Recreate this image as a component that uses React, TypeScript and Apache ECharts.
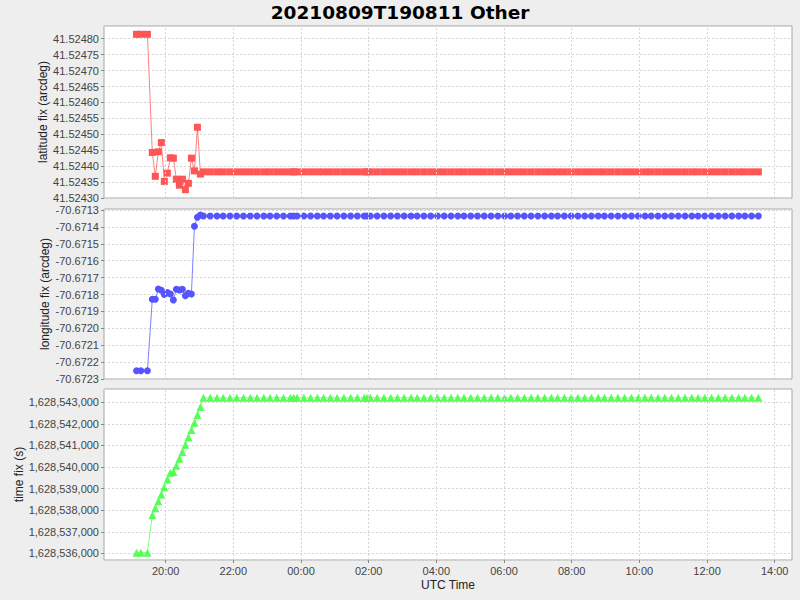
import React, { useEffect, useRef } from "react";
import * as echarts from "echarts";

const TITLE = "20210809T190811 Other";
const X_NAME = "UTC Time";
const Y_NAMES = ["latitude fix (arcdeg)", "longitude fix (arcdeg)", "time fix (s)"];

// sample times (UTC); hours >= 18 are on 2021-08-09, the rest on 2021-08-10
const SAMPLE_TIMES = [
  "19:08:20", "19:16:00", "19:27:40", "19:36:20", "19:41:40", "19:47:00", "19:52:20", "19:57:40",
  "20:03:00", "20:08:20", "20:13:40", "20:19:00", "20:24:20", "20:29:40", "20:35:00", "20:40:20",
  "20:45:40", "20:51:00", "20:56:20", "21:01:40", "21:07:00",
  "21:19:00", "21:31:00", "21:42:00", "21:54:00", "22:06:00", "22:18:00", "22:30:00", "22:42:00",
  "22:54:00", "23:05:00", "23:17:00", "23:29:00", "23:41:00", "23:47:00", "23:53:00",
  "00:05:00", "00:17:00", "00:29:00", "00:40:00", "00:52:00", "01:04:00", "01:16:00", "01:28:00",
  "01:40:00", "01:52:00", "01:57:00", "02:03:00", "02:15:00", "02:27:00", "02:39:00", "02:51:00",
  "03:03:00", "03:15:00", "03:26:00", "03:38:00", "03:50:00", "04:02:00", "04:14:00", "04:26:00",
  "04:38:00", "04:49:00", "05:01:00", "05:13:00", "05:25:00", "05:37:00", "05:49:00",
  "06:01:00", "06:12:00", "06:24:00", "06:36:00", "06:48:00", "07:00:00", "07:12:00", "07:24:00",
  "07:35:00", "07:47:00", "07:59:00", "08:11:00", "08:23:00", "08:35:00", "08:47:00",
  "08:58:00", "09:10:00", "09:22:00", "09:34:00", "09:46:00", "09:58:00", "10:10:00", "10:21:00",
  "10:33:00", "10:45:00", "10:57:00", "11:09:00", "11:21:00", "11:33:00", "11:44:00",
  "11:56:00", "12:08:00", "12:20:00", "12:32:00", "12:44:00", "12:56:00", "13:07:00", "13:19:00",
  "13:31:00",
];

const LATITUDE = [
  41.524814, 41.524814, 41.524814, 41.524443, 41.524368, 41.524445, 41.524474, 41.524352,
  41.524378, 41.524426, 41.524425, 41.524359, 41.52434, 41.524359, 41.524326, 41.524346,
  41.524425, 41.524385, 41.524522, 41.524375, 41.524382,
  41.524382, 41.524382, 41.524382, 41.524382, 41.524382, 41.524382, 41.524382, 41.524382,
  41.524382, 41.524382, 41.524382, 41.524382, 41.524382, 41.524382, 41.524382,
  41.524382, 41.524382, 41.524382, 41.524382, 41.524382, 41.524382, 41.524382, 41.524382,
  41.524382, 41.524382, 41.524382, 41.524382, 41.524382, 41.524382, 41.524382, 41.524382,
  41.524382, 41.524382, 41.524382, 41.524382, 41.524382, 41.524382, 41.524382, 41.524382,
  41.524382, 41.524382, 41.524382, 41.524382, 41.524382, 41.524382, 41.524382,
  41.524382, 41.524382, 41.524382, 41.524382, 41.524382, 41.524382, 41.524382, 41.524382,
  41.524382, 41.524382, 41.524382, 41.524382, 41.524382, 41.524382, 41.524382,
  41.524382, 41.524382, 41.524382, 41.524382, 41.524382, 41.524382, 41.524382, 41.524382,
  41.524382, 41.524382, 41.524382, 41.524382, 41.524382, 41.524382, 41.524382,
  41.524382, 41.524382, 41.524382, 41.524382, 41.524382, 41.524382, 41.524382, 41.524382,
  41.524382,
];

const LONGITUDE = [
  -70.672251, -70.672251, -70.672251, -70.671828, -70.671828, -70.671767, -70.671775, -70.6718,
  -70.671789, -70.671797, -70.671833, -70.671769, -70.671773, -70.671769, -70.671807, -70.671793,
  -70.671797, -70.671396, -70.671343, -70.67133, -70.671335,
  -70.671335, -70.671335, -70.671335, -70.671335, -70.671335, -70.671335, -70.671335, -70.671335,
  -70.671335, -70.671335, -70.671335, -70.671335, -70.671335, -70.671335, -70.671335,
  -70.671335, -70.671335, -70.671335, -70.671335, -70.671335, -70.671335, -70.671335, -70.671335,
  -70.671335, -70.671335, -70.671335, -70.671335, -70.671335, -70.671335, -70.671335, -70.671335,
  -70.671335, -70.671335, -70.671335, -70.671335, -70.671335, -70.671335, -70.671335, -70.671335,
  -70.671335, -70.671335, -70.671335, -70.671335, -70.671335, -70.671335, -70.671335,
  -70.671335, -70.671335, -70.671335, -70.671335, -70.671335, -70.671335, -70.671335, -70.671335,
  -70.671335, -70.671335, -70.671335, -70.671335, -70.671335, -70.671335, -70.671335,
  -70.671335, -70.671335, -70.671335, -70.671335, -70.671335, -70.671335, -70.671335, -70.671335,
  -70.671335, -70.671335, -70.671335, -70.671335, -70.671335, -70.671335, -70.671335,
  -70.671335, -70.671335, -70.671335, -70.671335, -70.671335, -70.671335, -70.671335, -70.671335,
  -70.671335,
];

const TIME_FIX = [
  1628536030, 1628536030, 1628536030, 1628537770, 1628538090, 1628538410, 1628538730, 1628539060,
  1628539420, 1628539740, 1628539770, 1628540060, 1628540380, 1628540700, 1628541040, 1628541380,
  1628541720, 1628542060, 1628542420, 1628542780, 1628543210,
  1628543210, 1628543210, 1628543210, 1628543210, 1628543210, 1628543210, 1628543210, 1628543210,
  1628543210, 1628543210, 1628543210, 1628543210, 1628543210, 1628543210, 1628543210,
  1628543210, 1628543210, 1628543210, 1628543210, 1628543210, 1628543210, 1628543210, 1628543210,
  1628543210, 1628543210, 1628543210, 1628543210, 1628543210, 1628543210, 1628543210, 1628543210,
  1628543210, 1628543210, 1628543210, 1628543210, 1628543210, 1628543210, 1628543210, 1628543210,
  1628543210, 1628543210, 1628543210, 1628543210, 1628543210, 1628543210, 1628543210,
  1628543210, 1628543210, 1628543210, 1628543210, 1628543210, 1628543210, 1628543210, 1628543210,
  1628543210, 1628543210, 1628543210, 1628543210, 1628543210, 1628543210, 1628543210,
  1628543210, 1628543210, 1628543210, 1628543210, 1628543210, 1628543210, 1628543210, 1628543210,
  1628543210, 1628543210, 1628543210, 1628543210, 1628543210, 1628543210, 1628543210,
  1628543210, 1628543210, 1628543210, 1628543210, 1628543210, 1628543210, 1628543210, 1628543210,
  1628543210,
];

// axis ranges and ticks
const X_RANGE = ["2021-08-09T18:10:40Z", "2021-08-10T14:30:40Z"];
const X_TICKS = [
  "2021-08-09T20:00:00Z", "2021-08-09T22:00:00Z", "2021-08-10T00:00:00Z", "2021-08-10T02:00:00Z",
  "2021-08-10T04:00:00Z", "2021-08-10T06:00:00Z", "2021-08-10T08:00:00Z", "2021-08-10T10:00:00Z",
  "2021-08-10T12:00:00Z", "2021-08-10T14:00:00Z",
];
const Y_RANGES = [
  [41.5242999, 41.52484],
  [-70.67230001, -70.671294],
  [1628535690, 1628543620],
];
const Y_INTERVALS = [0.00005, 0.0001, 1000];

const COLORS = ["#ff5555", "#5555ff", "#55ff55"];
const SYMBOLS = ["rect", "circle", "triangle"];

function parseTime(s: string): number {
  const [h, m, sec] = s.split(":").map(Number);
  const day = h >= 18 ? 9 : 10;
  return Date.UTC(2021, 7, day, h, m, sec);
}

const pad = (n: number) => (n < 10 ? "0" + n : "" + n);
const withCommas = (v: number) => Math.round(v).toString().replace(/\B(?=(\d{3})+(?!\d))/g, ",");

export default function App() {
  const ref = useRef<HTMLDivElement>(null);
  useEffect(() => {
    if (!ref.current) return;
    const chart = echarts.init(ref.current, undefined, { renderer: "svg" });
    const times = SAMPLE_TIMES.map(parseTime);
    const xTicks = X_TICKS.map((s) => Date.parse(s));
    const values = [LATITUDE, LONGITUDE, TIME_FIX];
    const grids = [
      { left: 104, top: 26, width: 688, height: 172 },
      { left: 104, top: 209, width: 688, height: 170 },
      { left: 104, top: 389, width: 688, height: 171 },
    ];
    const tickFont = { fontFamily: "Liberation Sans", fontSize: 11, color: "#444444" };
    const nameFont = { fontFamily: "Liberation Sans", fontSize: 12, color: "#222222" };
    const gridLineStyle = { color: "#d6d6d6", width: 1, type: [2, 2] as any };
    const formatters = [
      (v: number) => v.toFixed(5),
      (v: number) => v.toFixed(4),
      (v: number) => withCommas(v),
    ];
    const nameGaps = [55, 53, 79];
    const option: any = {
      animation: false,
      backgroundColor: "#eeeeee",
      title: {
        text: TITLE,
        left: "center",
        top: 3,
        padding: 0,
        textStyle: { fontFamily: "DejaVu Sans", fontWeight: "bold", fontSize: 18.5, color: "#000000" },
      },
      grid: grids.map((g) => ({
        ...g,
        show: true,
        backgroundColor: "#ffffff",
        borderColor: "#a8a8a8",
        borderWidth: 1,
      })),
      xAxis: [0, 1, 2].map((i) => ({
        type: "value",
        gridIndex: i,
        min: Date.parse(X_RANGE[0]),
        max: Date.parse(X_RANGE[1]),
        splitLine: { show: false },
        axisLine: { show: false },
        axisTick: { show: i === 2, length: 3, lineStyle: { color: "#888888" }, customValues: xTicks },
        axisLabel: {
          show: i === 2,
          ...tickFont,
          margin: 5,
          customValues: xTicks,
          formatter: (v: number) => {
            const d = new Date(v);
            return pad(d.getUTCHours()) + ":" + pad(d.getUTCMinutes());
          },
        },
        name: i === 2 ? X_NAME : "",
        nameLocation: "middle",
        nameGap: 19,
        nameMoveOverlap: false,
        nameTextStyle: nameFont,
      })),
      yAxis: [0, 1, 2].map((i) => ({
        type: "value",
        gridIndex: i,
        min: Y_RANGES[i][0],
        max: Y_RANGES[i][1],
        minInterval: Y_INTERVALS[i],
        maxInterval: Y_INTERVALS[i],
        scale: true,
        splitLine: { show: true, lineStyle: gridLineStyle },
        axisLine: { show: false },
        axisTick: { show: true, length: 3, lineStyle: { color: "#888888" } },
        axisLabel: {
          ...tickFont,
          margin: 5,
          showMinLabel: false,
          showMaxLabel: false,
          formatter: formatters[i],
        },
        name: Y_NAMES[i],
        nameLocation: "middle",
        nameGap: nameGaps[i],
        nameMoveOverlap: false,
        nameTextStyle: nameFont,
      })),
      series: [
        // vertical grid lines at the x ticks, drawn under the data
        ...[0, 1, 2].map((i) => ({
          type: "line",
          xAxisIndex: i,
          yAxisIndex: i,
          data: [],
          z: 0,
          silent: true,
          markLine: {
            silent: true,
            symbol: ["none", "none"],
            label: { show: false },
            lineStyle: gridLineStyle,
            emphasis: { disabled: true },
            data: xTicks.map((t) => ({ xAxis: t })),
          },
        })),
        ...[0, 1, 2].map((i) => ({
          type: "line",
          xAxisIndex: i,
          yAxisIndex: i,
          z: 3,
          data: times.map((t, k) => [t, values[i][k]]),
          symbol: SYMBOLS[i],
          symbolSize: i === 2 ? 8 : 7,
          showSymbol: true,
          showAllSymbol: true,
          itemStyle: { color: COLORS[i] },
          lineStyle: { color: COLORS[i], width: 1, opacity: 0.75 },
        })),
      ],
    };
    chart.setOption(option);
    return () => chart.dispose();
  }, []);
  return <div ref={ref} style={{ position: "fixed", left: 0, top: 0, width: 800, height: 600 }} />;
}
